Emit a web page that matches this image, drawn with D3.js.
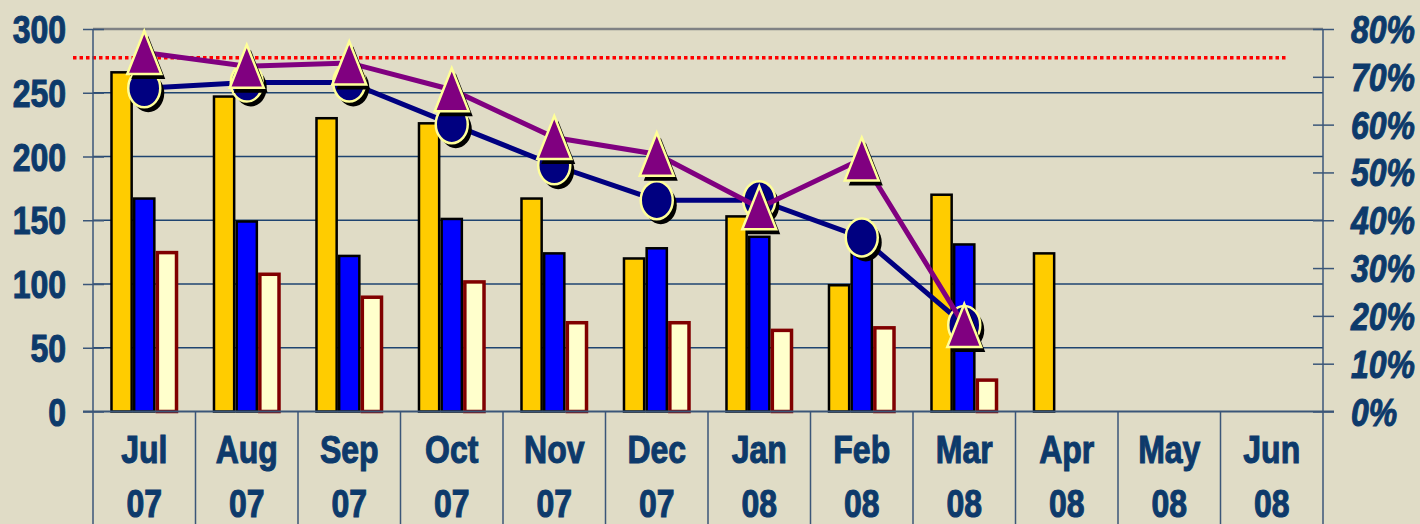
<!DOCTYPE html>
<html>
<head>
<meta charset="utf-8">
<script src="https://cdn.jsdelivr.net/npm/d3@7"></script>
<style>
  body { margin: 0; background: #e0dcc6; }
  svg { display: block; }
</style>
</head>
<body>
<script>
var monthNames = ['Jul', 'Aug', 'Sep', 'Oct', 'Nov', 'Dec', 'Jan', 'Feb', 'Mar', 'Apr', 'May', 'Jun'];
var yearNames = ['07', '07', '07', '07', '07', '07', '08', '08', '08', '08', '08', '08'];
var gold = [267, 248, 231, 227, 168, 121, 154, 100, 171, 125, null, null];
var blue = [168, 150, 123, 152, 125, 129, 138, 135, 132, null, null, null];
var cream = [126, 109, 91, 103, 71, 71, 65, 67, 26, null, null, null];
var navyPct = [67.6, 68.8, 68.8, 60.1, 51.5, 44.2, 44.2, 36.4, 18.1];
var purplePct = [75.1, 72.2, 72.9, 67.3, 57.3, 53.8, 42.6, 52.8, 18.0];
var targetPct = 74;
var leftTicks = [0, 50, 100, 150, 200, 250, 300];
var rightTicks = [0, 10, 20, 30, 40, 50, 60, 70, 80];

var w = 1420, h = 524;
var textColor = '#0d3a6b';
var axisColor = '#3b5678';

var svg = d3.select('body').append('svg')
  .attr('width', w)
  .attr('height', h);

var x = d3.scaleBand().domain(monthNames.map((d, i) => i)).range([93, 1323]);
var y = d3.scaleLinear().domain([0, 300]).range([411.5, 29]);
var y2 = d3.scaleLinear().domain([0, 80]).range([411.5, 29]);
var xs = d3.scaleBand().domain([0, 1, 2]).range([0, x.bandwidth()]).paddingOuter(0.76);

// gridlines
svg.append('g').selectAll('line')
  .data(leftTicks.slice(1, -1))
  .enter()
  .append('line')
    .attr('x1', 93).attr('x2', 1323)
    .attr('y1', d => y(d)).attr('y2', d => y(d))
    .attr('stroke', '#1f4470')
    .attr('stroke-width', 1.3);

svg.append('line')
  .attr('x1', 93).attr('x2', 1323)
  .attr('y1', y(300)).attr('y2', y(300))
  .attr('stroke', '#808284')
  .attr('stroke-width', 2.5);

// target line
svg.append('line')
  .attr('x1', x.range()[0] - 20).attr('x2', x.range()[1] - 36)
  .attr('y1', y2(targetPct)).attr('y2', y2(targetPct))
  .attr('stroke', '#ff0000')
  .attr('stroke-width', 3.5)
  .attr('stroke-dasharray', '3.5,3');

// bars
var series = [
  { vals: gold, fill: '#ffcc00', stroke: '#000000', sw: 2.5 },
  { vals: blue, fill: '#0000ff', stroke: '#000000', sw: 2.5 },
  { vals: cream, fill: '#ffffcc', stroke: '#800000', sw: 3.5 }
];

series.forEach((s, k) => {
  svg.append('g').selectAll('rect')
    .data(s.vals.map((v, i) => ({ i: i, v: v })).filter(d => d.v !== null))
    .enter()
    .append('rect')
      .attr('x', d => x(d.i) + xs(k) + s.sw / 2)
      .attr('y', d => y(d.v) + s.sw / 2)
      .attr('width', xs.bandwidth() - s.sw)
      .attr('height', d => y(0) - y(d.v) - s.sw / 2)
      .attr('fill', s.fill)
      .attr('stroke', s.stroke)
      .attr('stroke-width', s.sw);
});

// axes
var gl = svg.append('g').attr('transform', 'translate(93,0)')
  .call(d3.axisLeft(y).tickValues(leftTicks).tickSize(10).tickFormat(''));
gl.select('.domain').remove();
gl.selectAll('.tick line').attr('x1', -10).attr('x2', 11).attr('stroke', axisColor).attr('stroke-width', 1.5);

var gr = svg.append('g').attr('transform', 'translate(1323,0)')
  .call(d3.axisRight(y2).tickValues(rightTicks).tickSize(10).tickFormat(''));
gr.select('.domain').remove();
gr.selectAll('.tick line').attr('x1', -10).attr('x2', 11).attr('stroke', axisColor).attr('stroke-width', 1.5);

svg.append('line')
  .attr('x1', 93).attr('x2', 93).attr('y1', 29).attr('y2', h)
  .attr('stroke', axisColor).attr('stroke-width', 1.5);
svg.append('line')
  .attr('x1', 1323).attr('x2', 1323).attr('y1', 29).attr('y2', h)
  .attr('stroke', axisColor).attr('stroke-width', 1.5);
svg.append('line')
  .attr('x1', 83).attr('x2', 1334).attr('y1', y(0)).attr('y2', y(0))
  .attr('stroke', axisColor).attr('stroke-width', 2);

// category separators
svg.append('g').selectAll('line')
  .data(d3.range(1, monthNames.length))
  .enter()
  .append('line')
    .attr('x1', d => x(d)).attr('x2', d => x(d))
    .attr('y1', y(0)).attr('y2', h)
    .attr('stroke', axisColor)
    .attr('stroke-width', 1.5);

// labels (narrow heavy look)
function label(g, px, py, txt, anchor, italic) {
  g.append('g')
    .attr('transform', 'translate(' + px + ',' + py + ') scale(0.82,1)')
    .append('text')
      .text(txt)
      .attr('text-anchor', anchor)
      .attr('font-family', 'Liberation Sans, Arial, sans-serif')
      .attr('font-weight', 'bold')
      .attr('font-style', italic ? 'italic' : 'normal')
      .attr('font-size', '39px')
      .attr('fill', textColor)
      .attr('stroke', textColor)
      .attr('stroke-width', 1.1);
}

var labels = svg.append('g');
leftTicks.forEach(t => label(labels, 66, y(t) + 14, t, 'end', false));
rightTicks.forEach(t => label(labels, 1351, y2(t) + 14, t + '%', 'start', true));
monthNames.forEach((m, i) => {
  var cx = x(i) + x.bandwidth() / 2;
  label(labels, cx, 463, m, 'middle', false);
  label(labels, cx, 517, yearNames[i], 'middle', false);
});

// lines + markers
var cx = i => x(i) + x.bandwidth() / 2;
var line = d3.line().x((d, i) => cx(i)).y(d => y2(d));

function triangle(px, py) {
  var hw = 17, hh = 21.5;
  return 'M' + px + ',' + (py - hh) + 'L' + (px + hw) + ',' + (py + hh) + 'L' + (px - hw) + ',' + (py + hh) + 'Z';
}

svg.append('path')
  .datum(navyPct)
  .attr('d', line)
  .attr('fill', 'none')
  .attr('stroke', '#000080')
  .attr('stroke-width', 5);

var navyMarks = svg.append('g');
navyMarks.selectAll('ellipse.shadow')
  .data(navyPct)
  .enter()
  .append('ellipse')
    .attr('class', 'shadow')
    .attr('cx', (d, i) => cx(i) + 4)
    .attr('cy', d => y2(d) + 5)
    .attr('rx', 16).attr('ry', 19)
    .attr('fill', '#000');
navyMarks.selectAll('ellipse.mark')
  .data(navyPct)
  .enter()
  .append('ellipse')
    .attr('class', 'mark')
    .attr('cx', (d, i) => cx(i))
    .attr('cy', d => y2(d))
    .attr('rx', 16).attr('ry', 19)
    .attr('fill', '#000080')
    .attr('stroke', '#ffff99')
    .attr('stroke-width', 2.5);

svg.append('path')
  .datum(purplePct)
  .attr('d', line)
  .attr('fill', 'none')
  .attr('stroke', '#800080')
  .attr('stroke-width', 5);

var purpleMarks = svg.append('g');
purpleMarks.selectAll('path.shadow')
  .data(purplePct)
  .enter()
  .append('path')
    .attr('class', 'shadow')
    .attr('d', (d, i) => triangle(cx(i) + 4, y2(d) + 5))
    .attr('fill', '#000');
purpleMarks.selectAll('path.mark')
  .data(purplePct)
  .enter()
  .append('path')
    .attr('class', 'mark')
    .attr('d', (d, i) => triangle(cx(i), y2(d)))
    .attr('fill', '#800080')
    .attr('stroke', '#ffff99')
    .attr('stroke-width', 2.5)
    .attr('stroke-linejoin', 'miter');
</script>
</body>
</html>
